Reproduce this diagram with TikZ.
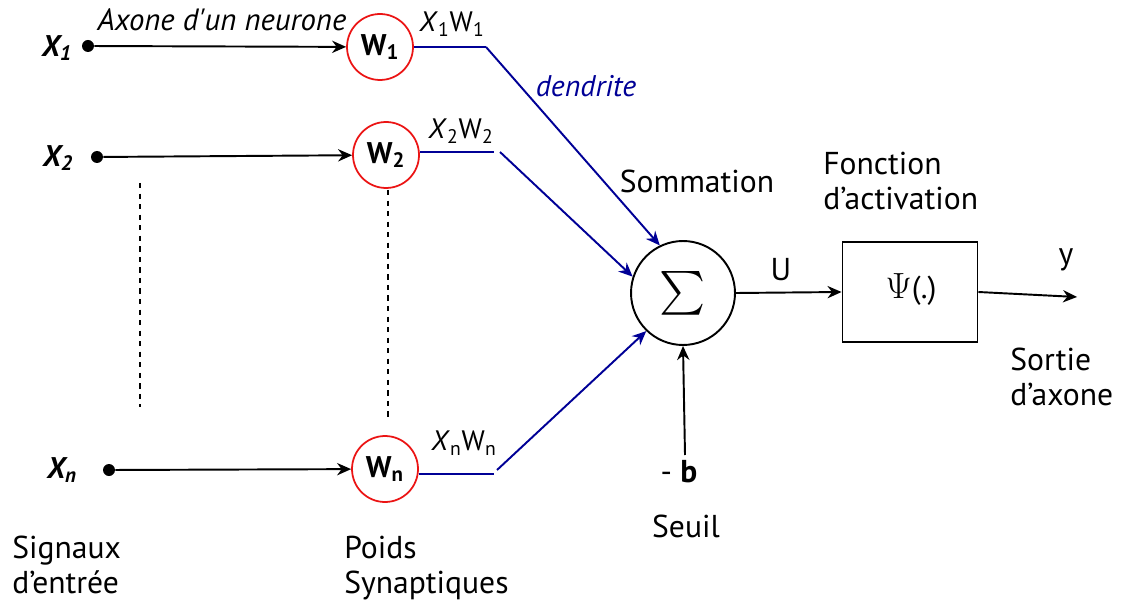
\documentclass[tikz,border=0pt]{standalone}
\usepackage{amsmath}
\usepackage{fontspec}
\setmainfont{PT Sans}
\usepackage{xcolor}
\usetikzlibrary{arrows.meta}
\definecolor{DendBlue}{RGB}{0,0,150}
\definecolor{SynRed}{RGB}{235,20,20}

\begin{document}
\begin{tikzpicture}[x=0.02cm, y=-0.02cm,
          lbl/.style={font=\fontsize{18}{20}\selectfont, inner sep=0pt},
          prd/.style={font=\fontsize{16}{20}\selectfont, inner sep=0pt},
          xin/.style={font=\fontsize{17}{20}\selectfont\bfseries\itshape, inner sep=0pt},
          syn/.style={circle, draw=SynRed, line width=1pt, minimum size=1.32cm,
                      inner sep=0pt, font=\fontsize{17}{20}\selectfont\bfseries},
          inp/.style={circle, fill=black, minimum size=0.24cm, inner sep=0pt},
          arr/.style={-{Stealth[length=8pt, width=7pt]}, draw=black, line width=1.1pt},
          dend/.style={draw=DendBlue, line width=1.1pt},
          darr/.style={dend, -{Stealth[length=8pt, width=7pt]}}
        ]
        \useasboundingbox (0,0) rectangle (1124,604);

        % entrees
        \node[xin] (x1) at (57,48) {X\textsubscript{1}};
        \node[xin] (x2) at (58,158) {X\textsubscript{2}};
        \node[xin] (xn) at (62,470) {X\textsubscript{n}};

        \node[inp] (d1) at (88,46) {};
        \node[inp] (d2) at (97,157) {};
        \node[inp] (dn) at (109,470) {};

        % poids synaptiques
        \node[syn] (w1) at (380,47) {W\textsubscript{1}};
        \node[syn] (w2) at (386,155) {W\textsubscript{2}};
        \node[syn] (wn) at (385,469) {W\textsubscript{n}};

        \draw[arr] (d1) -- (w1);
        \draw[arr] (d2) -- (w2);
        \draw[arr] (dn) -- (wn);

        \node[lbl, font=\fontsize{17.5}{20}\selectfont\itshape] (axo) at (222,20)
              {Axone d\textquotesingle un neurone};

        % sommation
        \node[circle, draw, line width=1.1pt, minimum size=2.08cm, inner sep=0pt]
              (sum) at (683,293) {\fontsize{25}{28}\selectfont$\sum$};

        \node[rectangle, draw, line width=1.1pt, minimum width=2.7cm,
              minimum height=2cm] (act) at (910,292) {};
        \node[lbl] (psi) at (911,290) {{\fontsize{21}{24}\selectfont$\Psi$}(.)};

        % dendrites
        \coordinate (b1) at (486,47);
        \coordinate (b2) at (494,152);
        \coordinate (c2) at (500,152);
        \coordinate (bn) at (494,474);
        \coordinate (cn) at (497,470);
        \draw[dend] (w1.east) -- (b1);
        \draw[darr] (b1) -- (sum.116);
        \draw[dend] (w2.east |- b2) -- (b2);
        \draw[darr] (c2) -- (sum.162);
        \draw[dend] (wn.east |- bn) -- (bn);
        \draw[darr] (cn) -- (sum.226);

        \node[prd] (p1) at (452,24) {\textit{X}\textsubscript{1}W\textsubscript{1}};
        \node[prd] (p2) at (461,131) {\textit{X}\textsubscript{2}W\textsubscript{2}};
        \node[prd] (pn) at (464,443) {\textit{X}\textsubscript{n}W\textsubscript{n}};
        \node[lbl, font=\fontsize{17}{20}\selectfont\itshape, text=DendBlue] (den) at (586,86) {dendrite};

        % sortie
        \coordinate (out) at (1077,297);
        \coordinate (bias) at (685,455);
        \draw[arr] (sum.east) -- (act.west);
        \draw[arr] (act.east) -- (out);
        \draw[arr] (bias) -- (sum.south);

        \node[lbl] (som) at (697,181) {Sommation};
        \node[lbl, anchor=west, align=left] (fct) at (823,181) {Fonction\\d’activation};
        \node[lbl] (u) at (781,270) {U};
        \node[lbl] (y) at (1066,260) {y};
        \node[lbl, anchor=west, align=left] (sor) at (1010,377) {Sortie\\d’axone};
        \node[lbl] (mb) at (679,472) {- \textbf{b}};
        \node[lbl] (seu) at (686,526) {Seuil};
        \node[lbl, anchor=west, align=left] (sig) at (12,565) {Signaux\\d’entrée};
        \node[lbl, anchor=west, align=left] (poi) at (344,568) {Poids\\Synaptiques};

        % pointilles
        \draw[dashed, line width=0.8pt] (140,183) -- (140,407);
        \draw[dashed, line width=0.8pt] (388,190) -- (388,420);
      \end{tikzpicture}
\end{document}
